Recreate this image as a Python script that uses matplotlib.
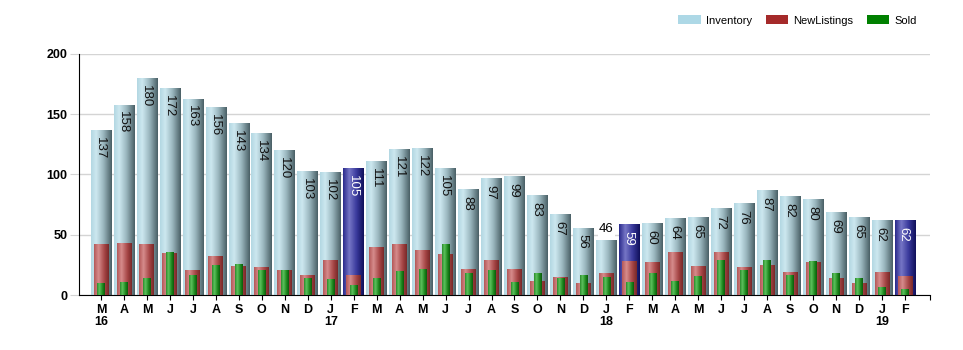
import numpy as np
import matplotlib.pyplot as plt
from matplotlib.colors import LinearSegmentedColormap
from matplotlib.patches import Patch

plt.rcParams['font.family'] = ['Liberation Sans', 'DejaVu Sans']

# monthly figures, March 2016 through February 2019
months = ['M', 'A', 'M', 'J', 'J', 'A', 'S', 'O', 'N', 'D', 'J', 'F'] * 3
years = {0: '16', 10: '17', 22: '18', 34: '19'}
inventory = [137, 158, 180, 172, 163, 156, 143, 134, 120, 103, 102, 105,
             111, 121, 122, 105, 88, 97, 99, 83, 67, 56, 46, 59,
             60, 64, 65, 72, 76, 87, 82, 80, 69, 65, 62, 62]
new_listings = [42, 43, 42, 35, 21, 32, 24, 23, 21, 17, 29, 17,
                40, 42, 37, 34, 22, 29, 22, 12, 15, 10, 18, 28,
                27, 36, 24, 36, 23, 25, 19, 27, 14, 10, 19, 16]
sold = [10, 11, 14, 36, 17, 25, 26, 21, 21, 14, 13, 8,
        14, 20, 22, 42, 18, 21, 11, 18, 14, 17, 15, 11,
        18, 12, 16, 29, 21, 29, 17, 28, 18, 14, 7, 5]

x = np.arange(len(months))
feb = [i for i, m in enumerate(months) if m == 'F']

inv_cmap = LinearSegmentedColormap.from_list(
    'inv', [(0, '#b3d7e2'), (0.25, '#cde8f0'), (0.6, '#9ab6be'), (1, '#4a6066')])
feb_cmap = LinearSegmentedColormap.from_list(
    'feb', [(0, '#2a2a8c'), (0.3, '#7676c6'), (0.65, '#3a3a9c'), (1, '#10105a')])
red_cmap = LinearSegmentedColormap.from_list(
    'red', [(0, '#b45858'), (0.3, '#d68c8c'), (0.7, '#a64646'), (1, '#782828')])
green_cmap = LinearSegmentedColormap.from_list(
    'green', [(0, '#2a8a2a'), (0.3, '#5ec25e'), (0.7, '#1f8a1f'), (1, '#0a5a0a')])

grad = np.linspace(0, 1, 64).reshape(1, -1)


def shade(ax, bar, cmap):
    x0, y0 = bar.get_x(), bar.get_y()
    w, h = bar.get_width(), bar.get_height()
    im = ax.imshow(grad, cmap=cmap, extent=[x0, x0 + w, y0, y0 + h],
                   aspect='auto', interpolation='bilinear', zorder=bar.get_zorder())
    im.set_clip_path(bar)
    bar.set_facecolor('none')


fig = plt.figure(figsize=(9.63, 3.5), dpi=100)
ax = fig.add_axes([0.082, 0.157, 0.884, 0.689])

inv_bars = ax.bar(x, inventory, width=0.9, zorder=2, linewidth=0)
red_bars = ax.bar(x, new_listings, width=0.65, zorder=3, linewidth=0)
green_bars = ax.bar(x, sold, width=0.33, zorder=4, linewidth=0)

for i, b in enumerate(inv_bars):
    shade(ax, b, feb_cmap if i in feb else inv_cmap)
for b in red_bars:
    shade(ax, b, red_cmap)
for b in green_bars:
    shade(ax, b, green_cmap)

# value labels on the inventory bars
for i, v in enumerate(inventory):
    if v < 50:
        ax.annotate(str(v), (x[i], v), xytext=(0, 3), textcoords='offset points',
                    ha='center', va='bottom', fontsize=9.5, zorder=6,
                    bbox=dict(facecolor='white', edgecolor='none', pad=1))
    else:
        ax.annotate(str(v), (x[i] - 0.05, v), xytext=(0, -5), textcoords='offset points',
                    ha='center', va='top', rotation=-90, fontsize=9.5, zorder=6,
                    color='white' if i in feb else '#111111')

ax.set_xlim(-0.96, 36.1)
ax.set_ylim(0, 200)
ax.set_yticks([0, 50, 100, 150, 200])
ax.yaxis.grid(True, color='#d4d4d4', linewidth=1, zorder=0)
ax.set_axisbelow(True)
ax.tick_params(axis='y', length=6.5, color='#d4d4d4', labelsize=9, pad=2)
for t in ax.get_yticklabels():
    t.set_fontweight('bold')

labels = [m + ('\n' + years[i] if i in years else '') for i, m in enumerate(months)]
ax.set_xticks(list(x) + [36.1])
ax.set_xticklabels(labels + [''], fontsize=9, fontweight='bold', va='top', linespacing=1.0)
ax.tick_params(axis='x', length=3.6, color='black', pad=3)

for s in ['top', 'right']:
    ax.spines[s].set_visible(False)
ax.spines['left'].set_color('black')
ax.spines['bottom'].set_color('black')
ax.spines['bottom'].set_bounds(-0.96, 36.1)

handles = [Patch(facecolor='#add8e6'), Patch(facecolor='#a52a2a'), Patch(facecolor='#008000')]
fig.legend(handles, ['Inventory', 'NewListings', 'Sold'], loc='upper right',
           bbox_to_anchor=(0.962, 0.985), ncol=3, frameon=False, fontsize=8,
           handlelength=2.0, handleheight=0.9, columnspacing=1.25, handletextpad=0.45)

fig.savefig('out.png', dpi=100)
